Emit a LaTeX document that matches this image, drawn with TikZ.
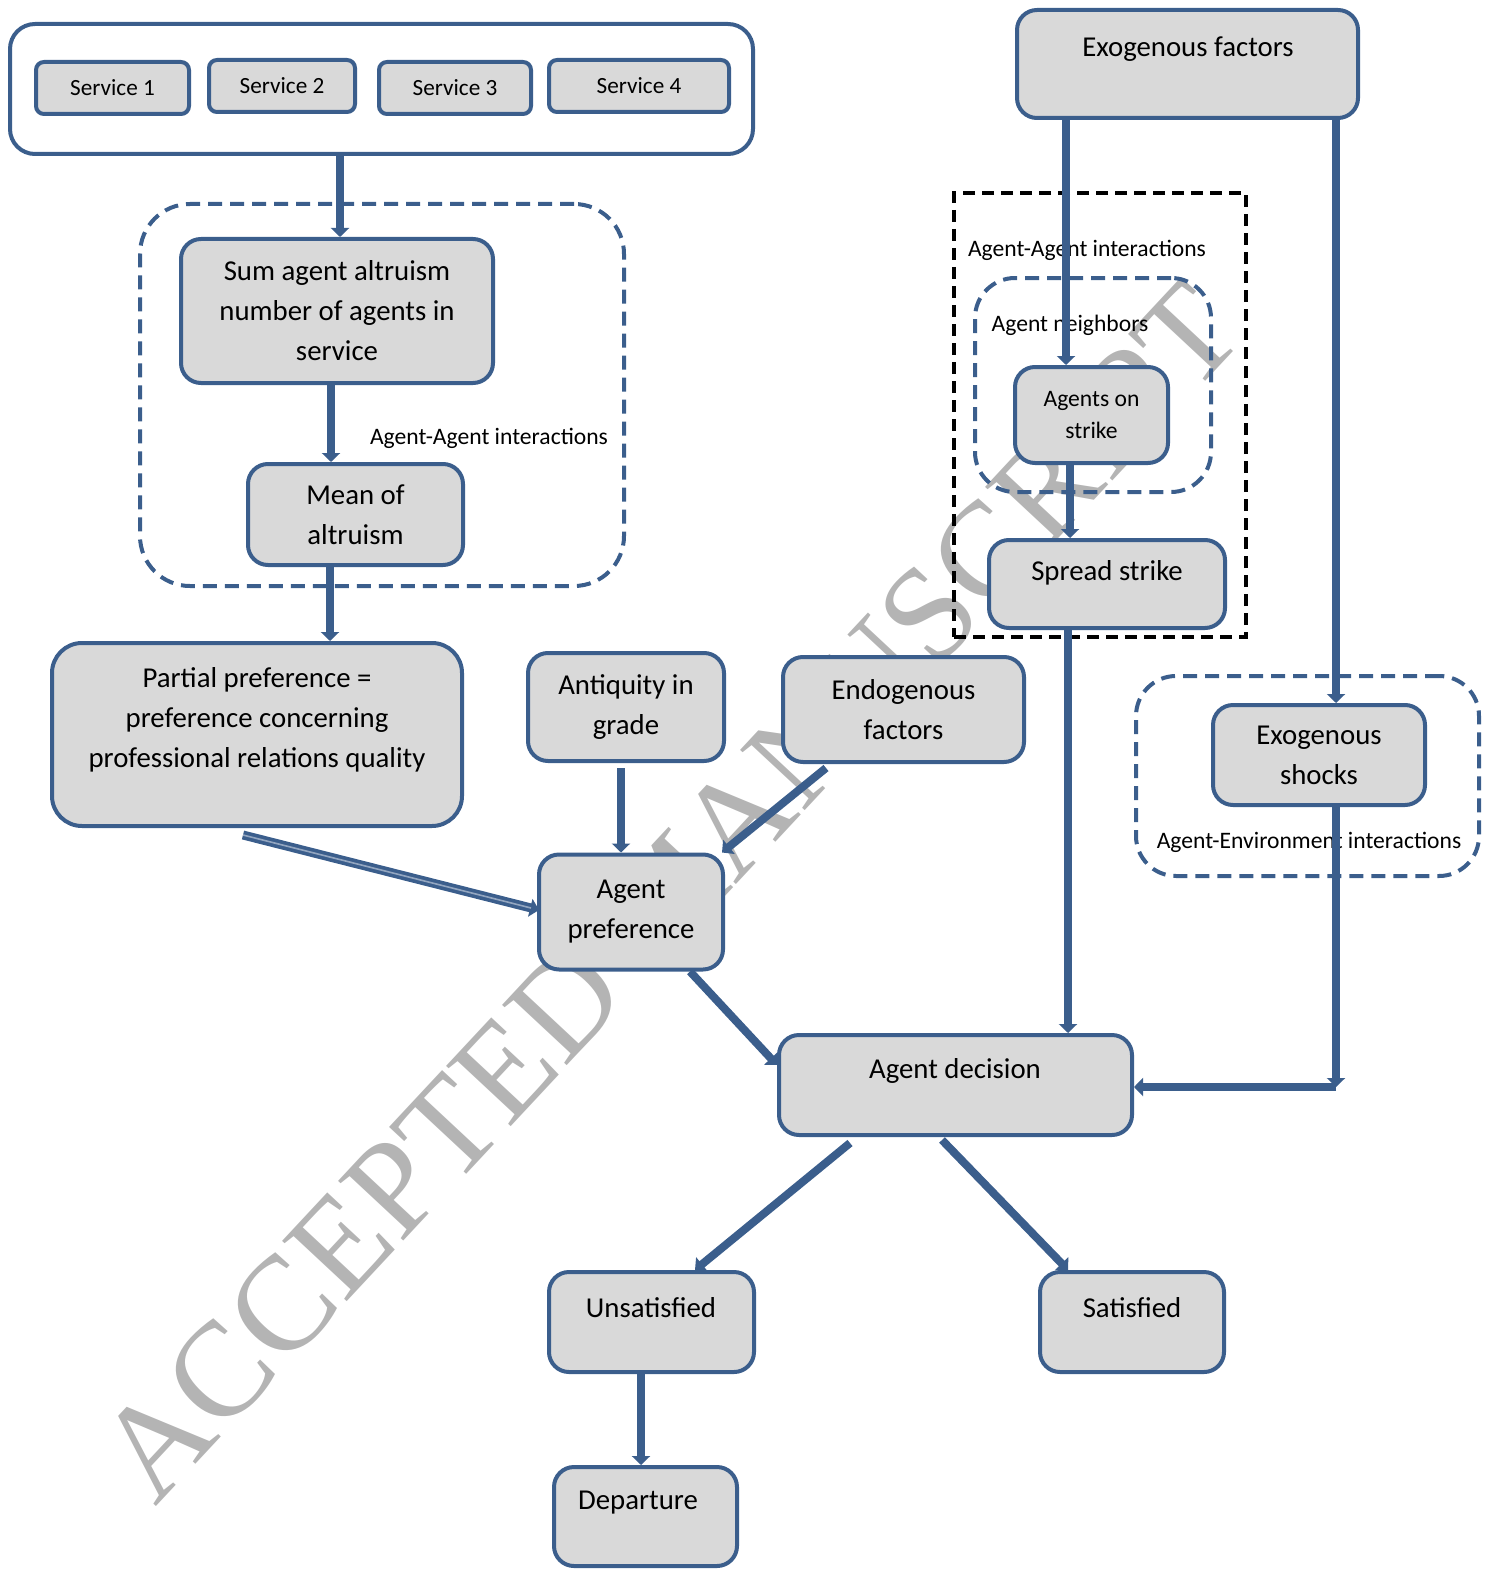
\documentclass[tikz,border=0pt]{standalone}
\usepackage{fontspec}
\setmainfont{Carlito}
\newfontfamily\wmfont{Liberation Serif}
\usetikzlibrary{arrows.meta,calc}
\definecolor{edgeblue}{HTML}{3B5E8C}
\definecolor{boxgray}{HTML}{D9D9D9}
\definecolor{wmgray}{HTML}{B4B4B4}

\begin{document}
\begin{tikzpicture}[x=0.5pt,y=-0.5pt,
  box/.style={draw=edgeblue, fill=boxgray, line width=2pt, rounded corners=#1,
              inner sep=0pt, align=center},
  box/.default=10pt,
  big/.style={font=\fontsize{14.4}{20}\selectfont, align=center, inner sep=0pt},
  small/.style={font=\fontsize{11.8}{16}\selectfont, align=center, inner sep=0pt},
  svc/.style={font=\fontsize{11.6}{13}\selectfont},
  grp/.style={draw=edgeblue, line width=2pt, dash pattern=on 7pt off 4pt,
              rounded corners=20pt, inner sep=0pt},
  blackgrp/.style={draw=black, line width=2pt, dash pattern=on 6pt off 3.5pt, inner sep=0pt},
  arr/.style={draw=edgeblue, line width=4pt, -{Triangle[width=9pt,length=4.5pt]}},
  wm/.style={text=wmgray, font=\wmfont\fontsize{67.5}{67.5}\selectfont, inner sep=0pt}
]
\useasboundingbox (0,0) rectangle (1493,1573);

% watermark behind everything
\node[wm, rotate=47, anchor=base west] (wm) at (155,1508) {ACCEPTED MANUSCRIPT};

% services container
\node[box=12.5pt, fill=white, minimum width=371.5pt, minimum height=65pt] (services) at (381.5,89) {};
\node[box=4pt, svc, minimum width=76.5pt, minimum height=26pt] (s1) at (112.5,88) {Service 1};
\node[box=4pt, svc, minimum width=73pt, minimum height=26pt] (s2) at (282,86) {Service 2};
\node[box=4pt, svc, minimum width=76pt, minimum height=26pt] (s3) at (455,88) {Service 3};
\node[box=4pt, svc, minimum width=90pt, minimum height=26pt] (s4) at (639,86) {Service 4};

% altruism group
\node[grp, rounded corners=25pt, minimum width=242pt, minimum height=191pt] (g1) at (382,395) {};
\node[box, big, minimum width=156pt, minimum height=72pt] (sum) at (337,311)
  {Sum agent altruism\\number of agents in\\service};
\node[box, big, minimum width=107.5pt, minimum height=50.5pt] (mean) at (355.5,514.5)
  {Mean of\\altruism};
\node[small] (l1) at (489,438) {Agent-Agent interactions};

% preference inputs
\node[box=15pt, minimum width=205pt, minimum height=91.5pt] (partial) at (257,734.5) {};
\node[big] (t-partial) at (257,720)
  {Partial preference =\\preference concerning\\professional relations quality};
\node[box, big, minimum width=98pt, minimum height=54pt] (antiq) at (626,707)
  {Antiquity in\\grade};
\node[box, big, minimum width=120.5pt, minimum height=52.5pt] (endo) at (903.5,709.5)
  {Endogenous\\factors};
\node[box, big, minimum width=92pt, minimum height=57.5pt] (pref) at (631,912)
  {Agent\\preference};

% exogenous side
\node[box, minimum width=170.5pt, minimum height=54pt] (exof) at (1187.5,64) {};
\node[big] (t-exof) at (1188,49) {Exogenous factors};

\node[blackgrp, minimum width=146pt, minimum height=222pt] (g2) at (1100,415) {};
\node[small] (l2) at (1087,250) {Agent-Agent interactions};
\node[grp, minimum width=118pt, minimum height=107pt] (g3) at (1093,385) {};
\node[small] (l3) at (1070,325) {Agent neighbors};
\node[box, small, minimum width=76.5pt, minimum height=48pt] (strikers) at (1091.5,415)
  {Agents on\\strike};
\node[box, minimum width=118pt, minimum height=44pt] (spread) at (1107,584) {};
\node[big] (t-spread) at (1107,573) {Spread strike};

\node[grp, minimum width=171.5pt, minimum height=100pt] (g4) at (1307.5,776) {};
\node[box, big, minimum width=106pt, minimum height=50pt] (shocks) at (1319,755)
  {Exogenous\\shocks};
\node[small] (l4) at (1309,842) {Agent-Environment interactions};

% decision and outcomes
\node[box, minimum width=176.5pt, minimum height=50pt] (decision) at (955.5,1085) {};
\node[big] (t-decision) at (955,1071) {Agent decision};
\node[box, minimum width=102.5pt, minimum height=50pt] (unsat) at (651.5,1322) {};
\node[big] (t-unsat) at (651,1308) {Unsatisfied};
\node[box, minimum width=92pt, minimum height=50pt] (sat) at (1132,1322) {};
\node[big] (t-sat) at (1132,1308) {Satisfied};
\node[box, minimum width=91.5pt, minimum height=49.5pt] (depart) at (645.5,1516.5) {};
\node[big] (t-depart) at (638,1503) {Departure};

\coordinate (corner) at (1336,1087);

% connectors
\draw[arr] ([xshift=1.5pt]sum.north |- services.south) -- ([xshift=1.5pt]sum.north);
\draw[arr] ([xshift=-3pt]sum.south) -- ([xshift=-3pt]sum.south |- mean.north);
\draw[arr] ([xshift=-12.75pt]mean.south) -- ([xshift=-12.75pt]mean.south |- partial.north);
\draw[arr, line width=4.5pt] ([xshift=-7pt,yshift=-3.5pt]partial.south) -- ([xshift=1pt,yshift=1pt]pref.west);
\draw[arr, draw=edgeblue!55!white, line width=0.8pt, -{}] ([xshift=-7pt,yshift=-3.5pt]partial.south) -- ([xshift=-3pt,yshift=2pt]pref.west);
\draw[arr] ([xshift=-2.5pt,yshift=-2.5pt]antiq.south) -- ([xshift=-2.5pt]antiq.south |- pref.north);
\draw[arr] ([xshift=-38.75pt,yshift=-2pt]endo.south) -- ([xshift=-1.5pt]pref.north east);
\draw[arr] ([xshift=29.5pt]pref.south) -- ([yshift=10pt]decision.west);

\draw[arr] ([xshift=-12.75pt]strikers.north |- exof.south) -- ([xshift=-12.75pt]strikers.north);
\draw[arr] ([xshift=-10.75pt]strikers.south) -- ([xshift=-10.75pt]strikers.south |- spread.north);
\draw[arr] ([xshift=-19.5pt]spread.south) -- ([xshift=-19.5pt]spread.south |- decision.north);
\draw[arr] ([xshift=8.5pt]shocks.north |- exof.south) -- ([xshift=8.5pt]shocks.north);
\draw[arr] ([xshift=8.5pt]shocks.south) -- (corner);
\draw[arr] (corner) -- (decision.east |- corner);

\draw[arr] ([xshift=-52.75pt,yshift=-3pt]decision.south) -- ([xshift=21.75pt]unsat.north);
\draw[arr] ([xshift=-6.75pt,yshift=-1.5pt]decision.south) -- ([xshift=-32pt]sat.north);
\draw[arr] ([xshift=-5.25pt]unsat.south) -- ([xshift=-5.25pt]unsat.south |- depart.north);
\end{tikzpicture}
\end{document}
